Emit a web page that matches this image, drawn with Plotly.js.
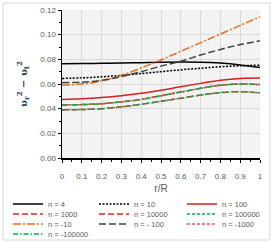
<!DOCTYPE html>
<html><head><meta charset="utf-8">
<script src="https://cdn.plot.ly/plotly-3.0.1.min.js"></script>
<style>html,body{margin:0;padding:0;background:#fff;}#chart{width:273px;height:243px;}</style>
</head><body><div id="chart"></div>
<script>
const rR = [0, 0.1, 0.2, 0.3, 0.4, 0.5, 0.6, 0.7, 0.8, 0.9, 1.0];
const n4      = [0.0765, 0.0766, 0.0768, 0.0770, 0.0773, 0.0776, 0.0778, 0.0777, 0.0770, 0.0755, 0.0733];
const n10     = [0.0645, 0.0650, 0.0658, 0.0670, 0.0685, 0.0700, 0.0715, 0.0728, 0.0740, 0.0748, 0.0753];
const n100    = [0.0475, 0.0480, 0.0490, 0.0505, 0.0525, 0.0550, 0.0578, 0.0605, 0.0630, 0.0645, 0.0648];
const n1000   = [0.0430, 0.0433, 0.0440, 0.0455, 0.0475, 0.0505, 0.0535, 0.0565, 0.0590, 0.0600, 0.0595];
const n10000  = [0.0390, 0.0393, 0.0400, 0.0415, 0.0435, 0.0460, 0.0485, 0.0510, 0.0530, 0.0538, 0.0527];
const n100000 = [0.0390, 0.0393, 0.0400, 0.0415, 0.0435, 0.0460, 0.0485, 0.0510, 0.0530, 0.0538, 0.0527];
const nm10    = [0.0590, 0.0600, 0.0625, 0.0670, 0.0730, 0.0795, 0.0865, 0.0935, 0.1005, 0.1075, 0.1145];
const nm100   = [0.0610, 0.0615, 0.0630, 0.0660, 0.0700, 0.0745, 0.0785, 0.0835, 0.0880, 0.0920, 0.0950];
const nm1000  = [0.0430, 0.0433, 0.0440, 0.0455, 0.0475, 0.0505, 0.0535, 0.0565, 0.0590, 0.0600, 0.0595];
const nm100000= [0.0430, 0.0433, 0.0440, 0.0455, 0.0475, 0.0505, 0.0535, 0.0565, 0.0590, 0.0600, 0.0595];

const names = ['n = 4','n = 10','n = 100','n = 1000','n = 10000','n = 100000','n = -10','n = - 100','n = -1000','n = -100000'];
const series = [n4, n10, n100, n1000, n10000, n100000, nm10, nm100, nm1000, nm100000];
const colors = ['#000000','#000000','#d42020','#ff1a1a','#ff1a1a','#00b050','#e07020','#404040','#ff5555','#00b050'];
const dashes = ['solid','2px,1.5px','solid','6px,3px','6px,3px','3px,2px','8px,2px,2px,2px','7px,3px','3px,2px','5px,2px,1.5px,2px'];

// legend grid: 3 columns, 4 rows (pixel positions converted to paper coords)
const plotL = 62, plotW = 198, plotB = 158, plotH = 148;
const colPx = [8, 94, 182];
const rowPx = [204, 214, 224, 234];

const layout = {
  width: 273, height: 243,
  margin: {l: 62, r: 13, t: 10, b: 85, autoexpand: false},
  paper_bgcolor: '#ffffff', plot_bgcolor: '#f3f3f3',
  font: {family: 'Liberation Sans, Arial, sans-serif', size: 8, color: '#595959'},
  showlegend: true,
  xaxis: {range: [0, 1], dtick: 0.1, tick0: 0, showgrid: true, gridcolor: '#d9d9d9', gridwidth: 1,
    zeroline: false, showline: true, linecolor: '#000', linewidth: 1.5, ticks: 'outside', ticklen: 3, tickcolor: '#000',
    minor: {dtick: 0.05, ticks: 'outside', ticklen: 2, tickcolor: '#000', showgrid: false},
    ticklabelstandoff: 7,
    title: {text: 'r/R', font: {size: 10, color: '#595959'}, standoff: 5}, tickfont: {size: 8, color: '#595959'}},
  yaxis: {range: [0, 0.12], dtick: 0.02, tick0: 0, tickformat: '.2f', showgrid: true, gridcolor: '#d9d9d9', gridwidth: 1,
    zeroline: false, showline: true, linecolor: '#000', linewidth: 1.5, ticks: 'outside', ticklen: 3, tickcolor: '#000',
    minor: {dtick: 0.01, ticks: 'outside', ticklen: 2, tickcolor: '#000', showgrid: false},
    title: {text: '<b>υ<sub>r</sub><sup>2</sup> − υ<sub>t</sub><sup>2</sup></b>', font: {size: 10, color: '#1f3864', family: 'DejaVu Serif, serif'}, standoff: 11},
    tickfont: {size: 8, color: '#595959'}},
  shapes: [{type: 'rect', xref: 'paper', yref: 'paper', x0: -0.298, x1: 1.05, y0: -0.554, y1: 1.047,
    line: {color: '#d9d9d9', width: 1}, fillcolor: 'rgba(0,0,0,0)', layer: 'below'}]
};

const traces = series.map((y, i) => {
  const key = i === 0 ? 'legend' : 'legend' + (i + 1);
  const col = i % 3, row = Math.floor(i / 3);
  layout[key] = {x: (colPx[col] - plotL) / plotW, xanchor: 'left',
    y: (plotB - rowPx[row]) / plotH, yanchor: 'middle',
    itemwidth: 30, font: {size: 7.5, color: '#595959'}, bgcolor: 'rgba(0,0,0,0)', borderwidth: 0};
  return {x: rR, y: y, name: names[i], type: 'scatter', mode: 'lines', legend: key,
    line: {color: colors[i], width: 1.5, dash: dashes[i], shape: 'spline'}};
});

Plotly.newPlot('chart', traces, layout, {staticPlot: true, displayModeBar: false});
</script></body></html>
